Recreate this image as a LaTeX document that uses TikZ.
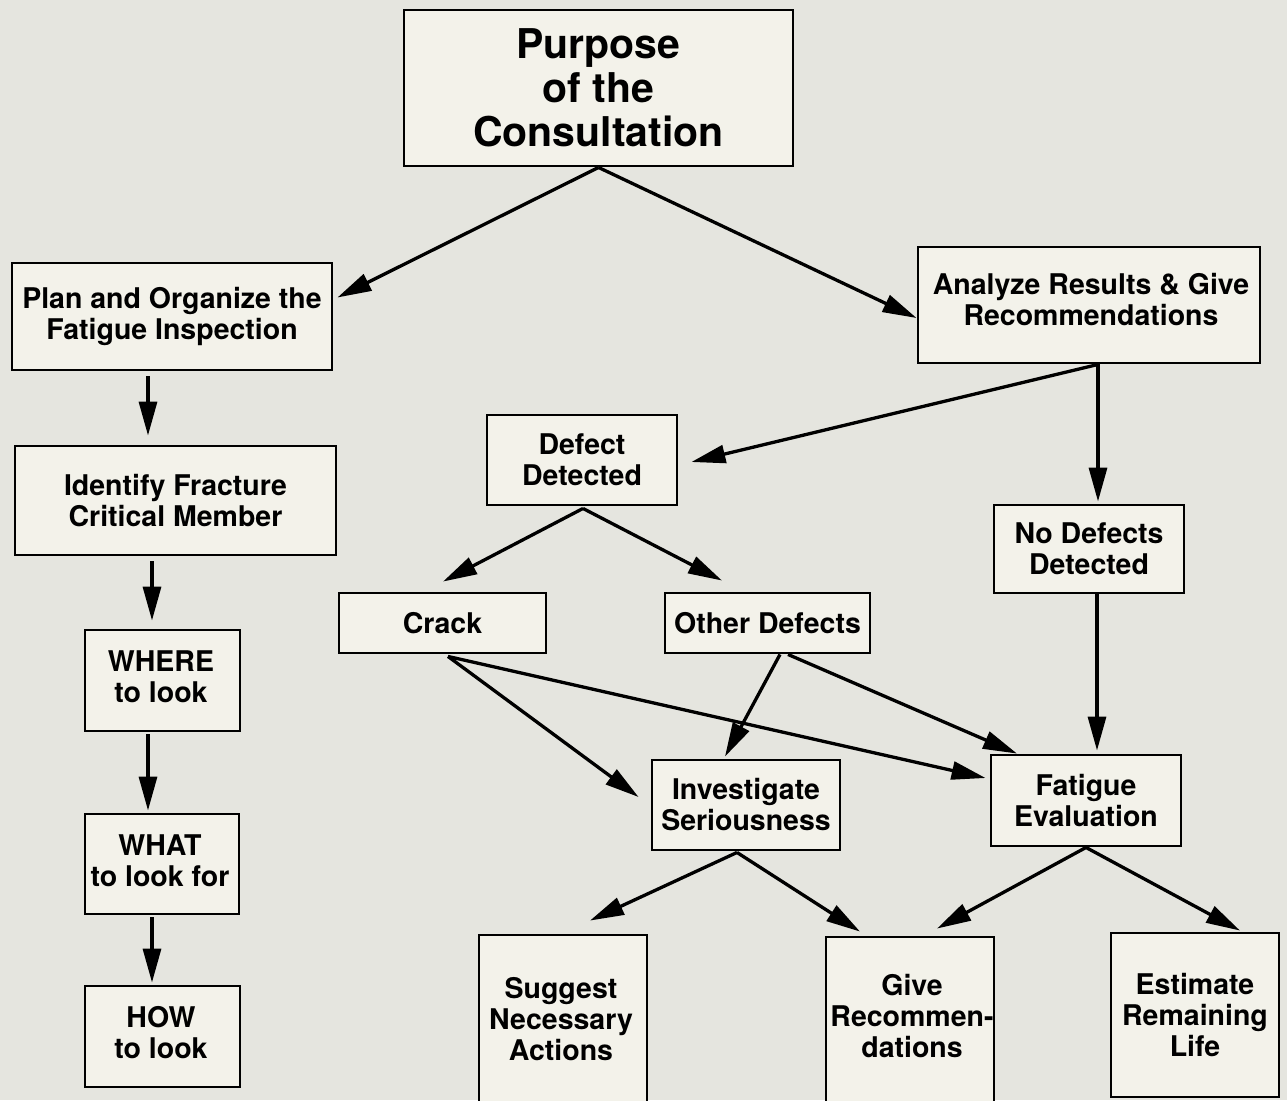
\documentclass[tikz,border=0pt]{standalone}
\usepackage{fontspec}
\setmainfont{TeX Gyre Heros}
\usetikzlibrary{arrows.meta,calc}
\definecolor{bgcol}{RGB}{229,229,223}
\definecolor{boxfill}{RGB}{243,242,234}
\begin{document}
\begin{tikzpicture}[x=1pt,y=-1pt,
  box/.style={draw=black,line width=2.9pt,fill=boxfill,inner sep=0pt,align=center,
    font=\bfseries\fontsize{28.5}{31}\selectfont},
  txt/.style={inner sep=0pt,align=center,font=\bfseries\fontsize{28.5}{31}\selectfont},
  arr/.style={line width=3.3pt,-{Triangle[length=34pt,width=18pt]}}]
\useasboundingbox (0,0) rectangle (1287,1100);
\fill[bgcol] (0,0) rectangle (1287,1100);

\node[box,minimum width=389pt,minimum height=156pt,font=\bfseries\fontsize{41}{44}\selectfont] (purpose) at (598.5,88) {Purpose\\of the\\Consultation};
\node[box,minimum width=320pt,minimum height=107pt] (plan) at (172,316.5) {Plan and Organize the\\Fatigue Inspection};
\node[box,minimum width=342pt,minimum height=116pt] (analyze) at (1089,305) {};
\node[txt] (analyzeT) at (1091,300) {Analyze Results \& Give\\Recommendations};
\node[box,minimum width=321pt,minimum height=109pt] (identify) at (175.5,500.5) {Identify Fracture\\Critical Member};
\node[box,minimum width=155pt,minimum height=101pt] (where) at (162.5,680.5) {};
\node[txt] (whereT) at (161,677) {WHERE\\to look};
\node[box,minimum width=154pt,minimum height=100pt] (what) at (162,864) {};
\node[txt] (whatT) at (160,861) {WHAT\\to look for};
\node[box,minimum width=155pt,minimum height=101pt] (how) at (162.5,1036.5) {};
\node[txt] (howT) at (161,1033) {HOW\\to look};
\node[box,minimum width=190pt,minimum height=90pt] (defect) at (582,460) {Defect\\Detected};
\node[box,minimum width=190pt,minimum height=88pt] (nodef) at (1089,549) {No Defects\\Detected};
\node[box,minimum width=207pt,minimum height=60pt] (crack) at (442.5,623) {Crack};
\node[box,minimum width=205pt,minimum height=60pt] (other) at (767.5,623) {Other Defects};
\node[box,minimum width=188pt,minimum height=90pt] (invest) at (746,805) {Investigate\\Seriousness};
\node[box,minimum width=190pt,minimum height=91pt] (fatigue) at (1086,800.5) {Fatigue\\Evaluation};
\node[box,minimum width=168pt,minimum height=200pt] (suggest) at (563,1035) {};
\node[txt] (suggestT) at (561,1019) {Suggest\\Necessary\\Actions};
\node[box,minimum width=168pt,minimum height=200pt] (give) at (910,1037) {};
\node[txt] (giveT) at (912,1016) {Give\\Recommen-\\dations};
\node[box,minimum width=168pt,minimum height=164pt] (estimate) at (1195,1015) {Estimate\\Remaining\\Life};

\draw[arr] (purpose.south) -- ($(plan.east)+(4,-19)$);
\draw[arr] (purpose.south) -- ($(analyze.west)+(0,13)$);
\draw[arr] ($(plan.south)+(-24,5)$) -- ($(identify.north)+(-27.5,-9)$);
\draw[arr] ($(identify.south)+(-23.5,5)$) -- ($(where.north)+(-10.5,-8)$);
\draw[arr] ($(where.south)+(-14.5,2)$) -- ($(what.north)+(-14,-2)$);
\draw[arr] ($(what.south)+(-10,2)$) -- ($(how.north)+(-10.5,-2)$);
\draw[arr] ($(analyze.south)+(9,0)$) -- ($(defect.east)+(13,2)$);
\draw[arr] ($(analyze.south)+(9,0)$) -- ($(nodef.north)+(9,-2)$);
\draw[arr] ($(defect.south)+(1,2)$) -- ($(crack.north)+(0.5,-10)$);
\draw[arr] ($(defect.south)+(1,2)$) -- ($(other.north)+(-45.5,-11)$);
\draw[arr] ($(nodef.south)+(8,0)$) -- ($(fatigue.north)+(11,-3)$);
\draw[arr] ($(crack.south)+(5.5,2)$) -- ($(invest.west)+(-12,-8)$);
\draw[arr] ($(crack.south)+(5.5,2)$) -- ($(fatigue.west)+(-4,-22.5)$);
\draw[arr] ($(other.south)+(12.5,0)$) -- ($(invest.north)+(-21,-2)$);
\draw[arr] ($(other.south)+(20.5,0)$) -- ($(fatigue.north)+(-69,0)$);
\draw[arr] ($(invest.south)+(-9,1)$) -- ($(suggest.north)+(27,-13)$);
\draw[arr] ($(invest.south)+(-9,1)$) -- ($(give.north)+(-50,-4)$);
\draw[arr] (fatigue.south) -- ($(give.north)+(27,-7)$);
\draw[arr] (fatigue.south) -- ($(estimate.north)+(45,-1)$);
\end{tikzpicture}
\end{document}
